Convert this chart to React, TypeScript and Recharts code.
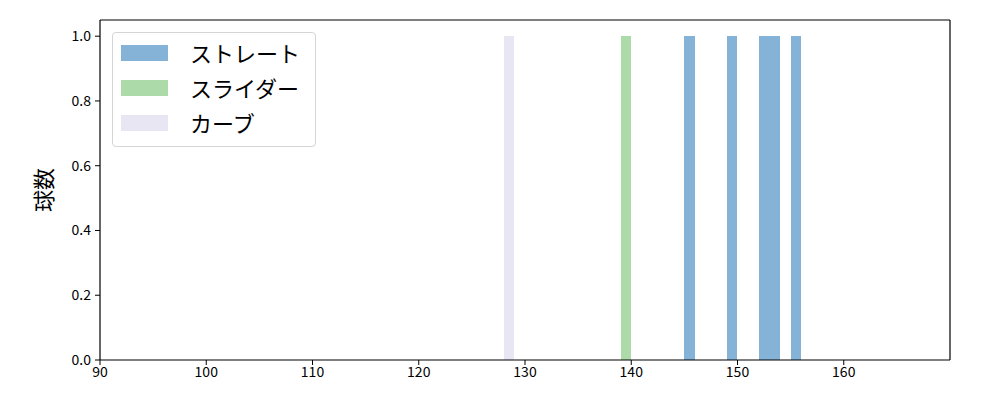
import { Bar, ComposedChart, Legend, ReferenceLine, XAxis, YAxis } from "recharts";

// 球速ヒストグラム（1km/h 刻み、ビン左端）
const straightBins = [145, 149, 152, 153, 155];
const straightCounts = [1, 1, 1, 1, 1];
const sliderBins = [139];
const sliderCounts = [1];
const curveBins = [128];
const curveCounts = [1];

const xTicks = [90, 100, 110, 120, 130, 140, 150, 160];
const yTicks = [0, 0.2, 0.4, 0.6, 0.8, 1.0];

const series = [
  { key: "straight", name: "ストレート", color: "#85b3d7", bins: straightBins, counts: straightCounts },
  { key: "slider", name: "スライダー", color: "#acdaa9", bins: sliderBins, counts: sliderCounts },
  { key: "curve", name: "カーブ", color: "#e7e6f2", bins: curveBins, counts: curveCounts },
];

const rows: Array<Record<string, number | null>> = [];
series.forEach((s) => {
  s.bins.forEach((b, i) => {
    const row: Record<string, number | null> = { x: b + 0.5 };
    series.forEach((o) => (row[o.key] = null));
    row[s.key] = s.counts[i];
    rows.push(row);
  });
});

const FONT = "'Noto Sans CJK JP', 'DejaVu Sans', sans-serif";

const LegendBox = () => (
  <div
    style={{
      border: "1px solid #d5d5d5",
      borderRadius: 4,
      background: "rgba(255,255,255,0.8)",
      padding: "2px 8px 6px 8px",
      fontFamily: FONT,
      fontSize: 22,
      width: 204,
      boxSizing: "border-box",
      whiteSpace: "nowrap",
    }}
  >
    {series.map((s) => (
      <div key={s.key} style={{ display: "flex", alignItems: "center", height: 35, lineHeight: "35px" }}>
        <span style={{ width: 47, height: 16, background: s.color, display: "inline-block", marginRight: 22, flexShrink: 0 }} />
        <span style={{ color: "#000" }}>{s.name}</span>
      </div>
    ))}
  </div>
);

export default function App() {
  return (
    <div style={{ position: "absolute", left: 0, top: 0, background: "#fff" }}>
      <ComposedChart
        width={1000}
        height={400}
        data={rows}
        margin={{ top: 20, right: 50, bottom: 0, left: 0 }}
        barGap={0}
        barCategoryGap={0}
      >
        <XAxis
          dataKey="x"
          type="number"
          domain={[90, 170]}
          ticks={xTicks}
          allowDataOverflow
          height={40}
          tickSize={5}
          tickMargin={2}
          stroke="#000"
          tick={{ fill: "#000", fontSize: 14, fontFamily: FONT }}
          axisLine={{ stroke: "#000", strokeWidth: 1.2 }}
        />
        <YAxis
          type="number"
          domain={[0, 1.05]}
          ticks={yTicks}
          allowDataOverflow
          width={100}
          tickSize={5}
          tickMargin={4}
          stroke="#000"
          tickFormatter={(v: number) => v.toFixed(1)}
          tick={{ fill: "#000", fontSize: 14, fontFamily: FONT }}
          axisLine={{ stroke: "#000", strokeWidth: 1.2 }}
          label={{
            value: "球数",
            angle: -90,
            position: "insideLeft",
            offset: 44,
            style: { fontSize: 22, fontFamily: FONT, fill: "#000", textAnchor: "middle" },
          }}
        />
        <ReferenceLine y={1.05} stroke="#000" strokeWidth={1.2} ifOverflow="extendDomain" />
        <ReferenceLine x={170} stroke="#000" strokeWidth={1.2} ifOverflow="extendDomain" />
        <Legend
          content={<LegendBox />}
          layout="horizontal"
          verticalAlign="middle"
          align="center"
          wrapperStyle={{ left: 112, top: 32, width: "auto" }}
        />
        {series.map((s) => (
          <Bar
            key={s.key}
            dataKey={s.key}
            name={s.name}
            stackId="h"
            fill={s.color}
            barSize={10.62}
            shapeRendering="crispEdges"
            isAnimationActive={false}
          />
        ))}
      </ComposedChart>
    </div>
  );
}
